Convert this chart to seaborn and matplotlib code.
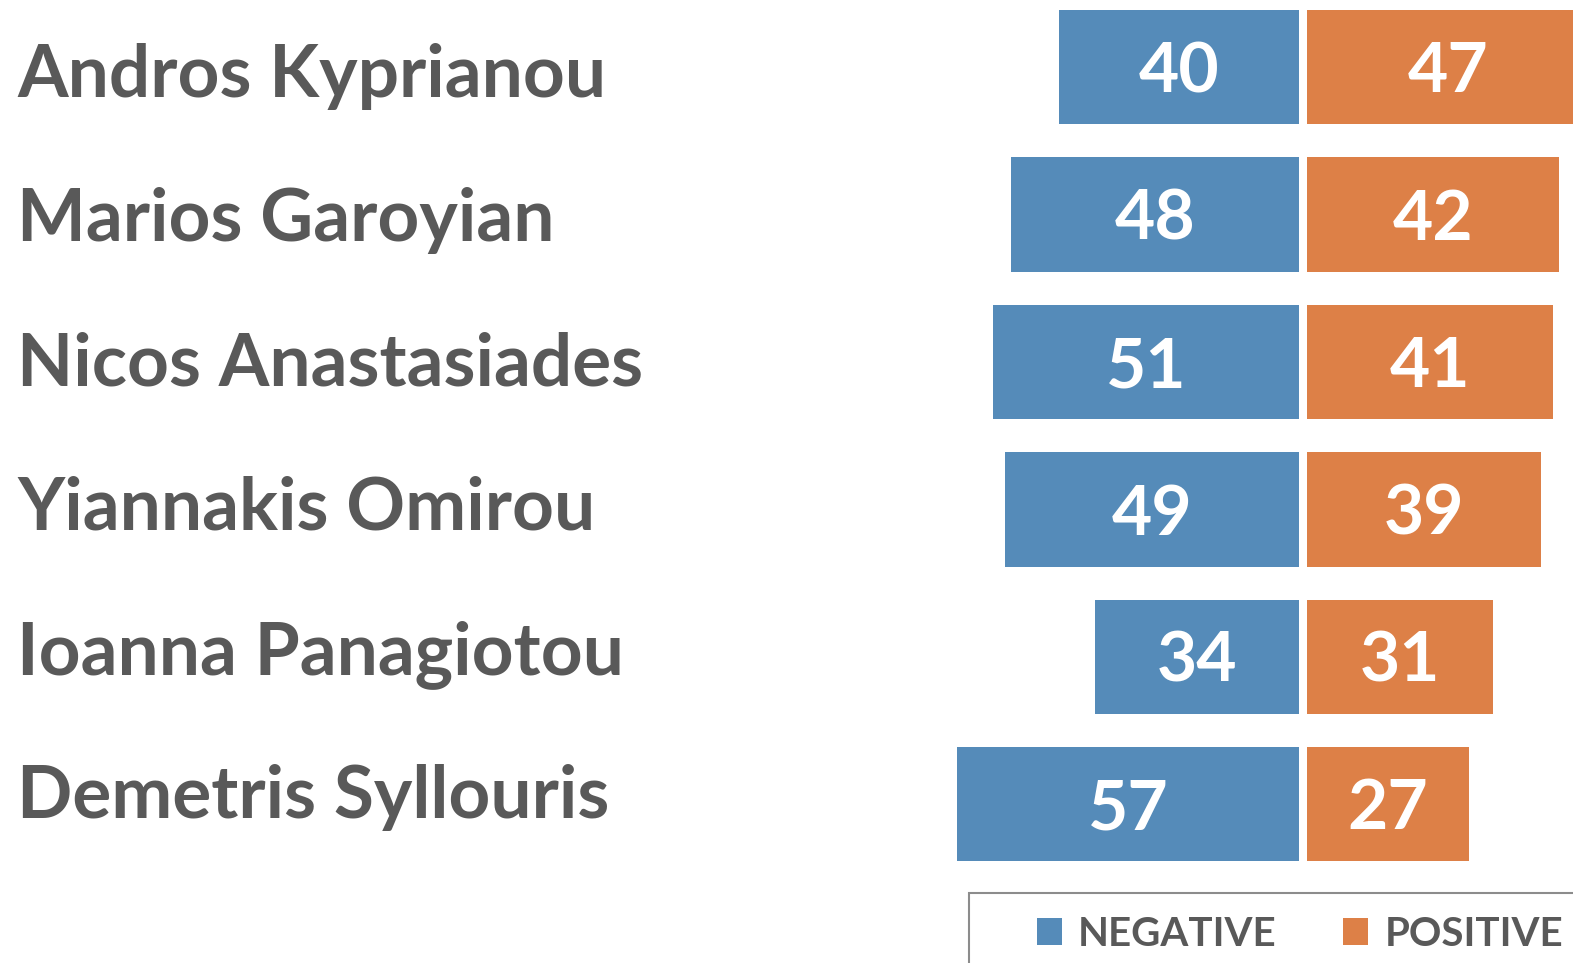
import matplotlib
matplotlib.use("Agg")
import matplotlib.pyplot as plt
from matplotlib.patches import Patch, Rectangle
import pandas as pd
import seaborn as sns

names = ["Andros Kyprianou", "Marios Garoyian", "Nicos Anastasiades",
         "Yiannakis Omirou", "Ioanna Panagiotou", "Demetris Syllouris"]
negative = [40, 48, 51, 49, 34, 57]
positive = [47, 42, 41, 39, 31, 27]
legend_labels = ["NEGATIVE", "POSITIVE"]

BLUE = "#558BB9"
ORANGE = "#DD8047"
GREY = "#595959"
FONT = "Lato"

W, H = 1573, 963
sns.set_style("white")
plt.rcParams["font.family"] = [FONT, "DejaVu Sans"]

df = pd.DataFrame({"name": names, "negative": negative, "positive": positive})

fig = plt.figure(figsize=(W / 100, H / 100), dpi=100)

# axes boxes in pixels (6 px per unit)
px = 6.0
ax_bottom = 1 - 878 / H
ax_height = (878 + 6.5) / H
neg_right, pos_left = 1299, 1307
ax_neg = fig.add_axes([(neg_right - 60 * px) / W, ax_bottom, 60 * px / W, ax_height])
ax_pos = fig.add_axes([pos_left / W, ax_bottom, (W - pos_left) / W, ax_height])

sns.barplot(data=df, y="name", x="negative", color=BLUE, saturation=1,
            width=0.776, linewidth=0, orient="h", ax=ax_neg)
sns.barplot(data=df, y="name", x="positive", color=ORANGE, saturation=1,
            width=0.776, linewidth=0, orient="h", ax=ax_pos)

ax_neg.set_xlim(60, 0)
ax_pos.set_xlim(0, (W - pos_left) / px)

for ax, vals in [(ax_neg, negative), (ax_pos, positive)]:
    ax.set_ylim(5.5, -0.5)
    ax.axis("off")
    for i, v in enumerate(vals):
        ax.text(v / 2, i + 0.17, str(v), ha="center", va="baseline",
                color="white", fontsize=50, fontweight="bold")

# candidate names on the left
for i, n in enumerate(names):
    fig.text(17 / W, 1 - (97 + i * 144.2) / H, n, ha="left", va="baseline",
             color=GREY, fontsize=52.5, fontweight="bold")

# legend with its own box
fig.patches.append(Rectangle((969 / W, -0.1), 0.5, 1.1 - 893 / H, transform=fig.transFigure,
                             facecolor="none", edgecolor="#8c8c8c", linewidth=1.5))
handles = [Patch(facecolor=BLUE, linewidth=0), Patch(facecolor=ORANGE, linewidth=0)]
fig.legend(handles, legend_labels, loc="center left", bbox_to_anchor=(1017 / W, 1 - 934 / H),
           ncol=2, frameon=False, borderpad=0, handlelength=0.62, handleheight=0.65,
           handletextpad=0.4, columnspacing=1.65,
           prop={"family": FONT, "weight": "bold", "size": 29}, labelcolor=GREY)

fig.savefig("out.png", dpi=100)
